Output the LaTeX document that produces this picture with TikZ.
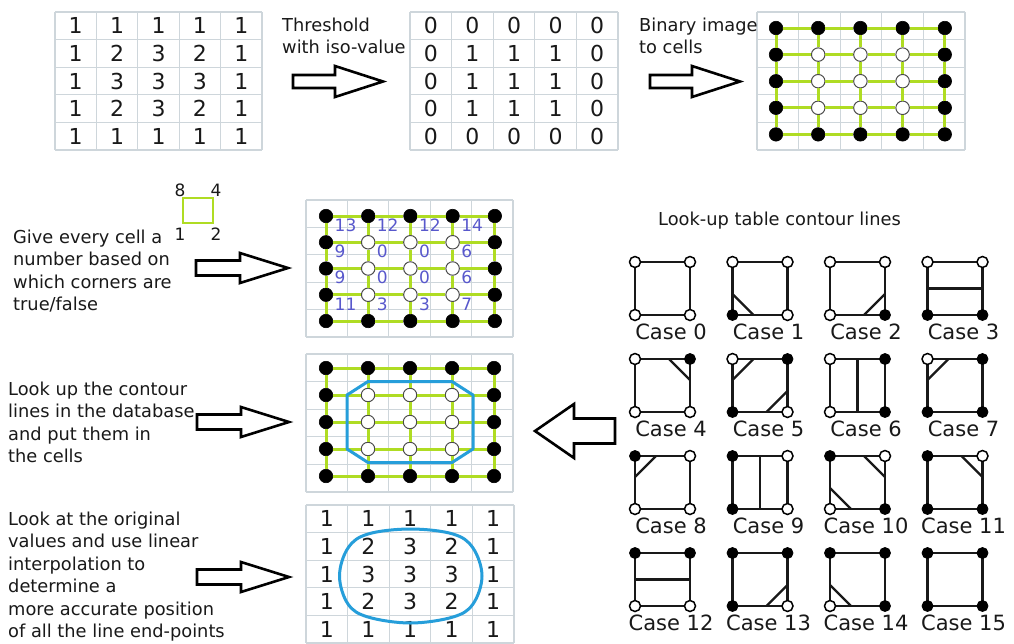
\documentclass[tikz,border=0pt]{standalone}
\usepackage{fontspec}
\setmainfont{DejaVu Sans}
\usetikzlibrary{calc}

\definecolor{gridgray}{RGB}{206,214,219}
\definecolor{meshgreen}{RGB}{175,220,35}
\definecolor{contourblue}{RGB}{38,158,218}
\definecolor{codeblue}{RGB}{88,88,204}
\definecolor{ink}{RGB}{25,25,25}

\tikzset{
  gridline/.style={draw=gridgray, line width=1.3pt},
  digit/.style={inner sep=0pt, font=\fontsize{22}{26}\selectfont, text=ink},
  code/.style={inner sep=0pt, anchor=west, font=\fontsize{17}{20}\selectfont, text=codeblue},
  dotb/.style={circle, fill=black, draw=black, line width=0.6pt, minimum size=13.5pt, inner sep=0pt},
  dotw/.style={circle, fill=white, draw=black!70, line width=1pt, minimum size=13.5pt, inner sep=0pt},
  meshline/.style={draw=meshgreen, line width=3pt},
  contour/.style={draw=contourblue, line width=3pt, line join=round},
  arrowline/.style={draw=black, fill=white, line width=2.6pt, line join=miter},
  caption/.style={inner sep=0pt, align=left, font=\fontsize{17.8}{22.5}\selectfont, text=ink},
  keybox/.style={draw=meshgreen, line width=2.6pt, minimum width=30pt, minimum height=25pt, inner sep=0pt, outer sep=0pt},
  keynum/.style={inner sep=0pt, font=\fontsize{17}{20}\selectfont, text=ink},
  casebox/.style={draw=ink, line width=2.4pt, minimum width=55pt, minimum height=53pt, inner sep=0pt, outer sep=0pt},
  cutline/.style={draw=ink, line width=2.4pt},
  kon/.style={circle, fill=black, draw=black, minimum size=11pt, inner sep=0pt, line width=0.8pt},
  koff/.style={circle, fill=white, draw=black, minimum size=11pt, inner sep=0pt, line width=1.5pt},
  caselabel/.style={inner sep=0pt, anchor=base, font=\fontsize{21}{24}\selectfont, text=ink},
  pics/blockarrow/.style args={#1/#2/#3/#4}{code={
    \draw[arrowline] (0,-#1) -- (#3,-#1) -- (#3,-#2) -- (#3+#4,0) -- (#3,#2) -- (#3,#1) -- (0,#1) -- cycle;}},
}

% cell borders of a 5x5 table: x0, y0, width, height
\newcommand\drawcells[4]{%
  \foreach \k in {0,...,5}{
    \draw[gridline] ({#1+\k*#3/5},#2) -- ({#1+\k*#3/5},{#2+#4});
    \draw[gridline] (#1,{#2+\k*#4/5}) -- ({#1+#3},{#2+\k*#4/5});
  }}

% numbers of a 5x5 table: prefix, x0, y0, width, height, rows
\newcommand\digitgrid[6]{%
  \foreach \row [count=\r] in {#6}{
    \foreach \v [count=\c] in \row {
      \node[digit] (#1-\r-\c) at ({#2+(\c-0.5)*#4/5},{#3+(\r-0.5)*#5/5}) {\v};
    }}}

% 5x5 sample points joined by a mesh: prefix, x0, dx, y0, dy
\newcommand\dotmesh[5]{%
  \foreach \row [count=\r] in {{b,b,b,b,b},{b,w,w,w,b},{b,w,w,w,b},{b,w,w,w,b},{b,b,b,b,b}}{
    \foreach \s [count=\c] in \row {
      \node[dot\s] (#1-\r-\c) at ({#2+(\c-1)*#3},{#4+(\r-1)*#5}) {};
    }}
  \foreach \r in {1,...,5}{
    \foreach \c [evaluate=\c as \cn using int(\c+1)] in {1,...,4}{
      \draw[meshline] (#1-\r-\c) -- (#1-\r-\cn);
      \draw[meshline] (#1-\c-\r) -- (#1-\cn-\r);
    }}}

% contour segments inside a look-up square
\newcommand\mscutbl[1]{\draw[cutline] ($(#1.south west)+(0,-21)$) -- ($(#1.south west)+(21,0)$);}
\newcommand\mscutbr[1]{\draw[cutline] ($(#1.south east)+(-21,0)$) -- ($(#1.south east)+(0,-21)$);}
\newcommand\mscuttr[1]{\draw[cutline] ($(#1.north east)+(-21,0)$) -- ($(#1.north east)+(0,21)$);}
\newcommand\mscuttl[1]{\draw[cutline] ($(#1.north west)+(21,0)$) -- ($(#1.north west)+(0,21)$);}
\newcommand\mscuth[1]{\draw[cutline] (#1.west) -- (#1.east);}
\newcommand\mscutv[1]{\draw[cutline] (#1.north) -- (#1.south);}

\begin{document}
\begin{tikzpicture}[x=1pt,y=-1pt]
\fill[white] (0,0) rectangle (1014,643);
\useasboundingbox (0,0) rectangle (1014,643);

% ---- top row: scalar field, thresholded field, sample points
\drawcells{55}{12}{207}{138}
\digitgrid{va}{55}{12}{207}{138}{{1,1,1,1,1},{1,2,3,2,1},{1,3,3,3,1},{1,2,3,2,1},{1,1,1,1,1}}

\drawcells{410}{12}{208}{138}
\digitgrid{vb}{410}{12}{208}{138}{{0,0,0,0,0},{0,1,1,1,0},{0,1,1,1,0},{0,1,1,1,0},{0,0,0,0,0}}

\drawcells{757}{12}{208}{138}
\dotmesh{m3}{776}{42.2}{28}{26.6}

\node[caption, anchor=north west] (txtA) at (282,17.5) {Threshold\\with iso-value};
\coordinate (arrA) at (293,81.5);
\pic at (arrA) {blockarrow=6.5/15.5/42/48};

\node[caption, anchor=north west] (txtB) at (639,17.5) {Binary image\\to cells};
\coordinate (arrB) at (650,81.5);
\pic at (arrB) {blockarrow=6.5/15.5/42/48};

% ---- cell codes
\node[keybox] (key) at (198,210.5) {};
\node[keynum] (key8) at (180,190) {8};
\node[keynum] (key4) at (216,190) {4};
\node[keynum] (key1) at (180,234) {1};
\node[keynum] (key2) at (216,234) {2};

\node[caption, anchor=north west] (txtC) at (13,229.5) {Give every cell a\\number based on\\which corners are\\true/false};
\coordinate (arrC) at (196,268);
\pic at (arrC) {blockarrow=7.5/15/44/48};

\drawcells{306}{200}{207}{137}
\dotmesh{m4}{326}{42.2}{216}{26.25}
\foreach \row [count=\r] in {{13,12,12,14},{9,0,0,6},{9,0,0,6},{11,3,3,7}}{
  \foreach \v [count=\c] in \row {
    \pgfmathtruncatemacro\rr{\r+1}
    \node[code] (code-\r-\c) at ($(m4-\r-\c)!.5!(m4-\rr-\c)+(8.5,-4)$) {\v};
  }}

% ---- contour from the look-up table
\node[caption, anchor=north west] (txtD) at (8,381.5) {Look up the contour\\lines in the database\\and put them in\\the cells};
\coordinate (arrD) at (197,422);
\pic at (arrD) {blockarrow=7.5/15/44/48};

\drawcells{306}{354}{207}{138}
\dotmesh{m5}{326}{42}{368}{27}
\draw[contour]
  ($(m5-2-1)!.5!(m5-2-2)$) -- ($(m5-1-2)!.5!(m5-2-2)$) -- ($(m5-1-4)!.5!(m5-2-4)$)
  -- ($(m5-2-4)!.5!(m5-2-5)$) -- ($(m5-4-4)!.5!(m5-4-5)$) -- ($(m5-4-4)!.5!(m5-5-4)$)
  -- ($(m5-4-2)!.5!(m5-5-2)$) -- ($(m5-4-1)!.5!(m5-4-2)$) -- cycle;

% ---- interpolated contour
\node[caption, anchor=north west] (txtE) at (8,511.5) {Look at the original\\values and use linear\\interpolation to\\determine a\\more accurate position\\of all the line end-points};
\coordinate (arrE) at (197,577);
\pic at (arrE) {blockarrow=7.5/15/44/48};

\drawcells{306}{505}{208}{138}
\digitgrid{vf}{306}{505}{208}{138}{{1,1,1,1,1},{1,2,3,2,1},{1,3,3,3,1},{1,2,3,2,1},{1,1,1,1,1}}
\draw[contour] plot[smooth cycle, tension=0.6] coordinates {
  (339.5,576) (348,548) (368,534) (410.5,529) (453,534) (473,548)
  (482,576) (473,604) (453,617) (410.5,623) (368,617) (348,604)};

% ---- look-up table
\node[caption, anchor=base west] (txtF) at (658,225) {Look-up table contour lines};
\coordinate (arrF) at (615,431);
\pic[rotate=180] at (arrF) {blockarrow=12.5/27/41/39};

\foreach \n/\bl/\br/\tr/\tl in {0/koff/koff/koff/koff, 1/kon/koff/koff/koff,
    2/koff/kon/koff/koff, 3/kon/kon/koff/koff, 4/koff/koff/kon/koff,
    5/kon/koff/kon/koff, 6/koff/kon/kon/koff, 7/kon/kon/kon/koff,
    8/koff/koff/koff/kon, 9/kon/koff/koff/kon, 10/koff/kon/koff/kon,
    11/kon/kon/koff/kon, 12/koff/koff/kon/kon, 13/kon/koff/kon/kon,
    14/koff/kon/kon/kon, 15/kon/kon/kon/kon}{
  \pgfmathtruncatemacro\col{mod(\n,4)}
  \pgfmathtruncatemacro\rw{\n/4}
  \pgfmathsetmacro\cx{662.5+97.5*\col}
  \pgfmathsetmacro\cy{288.5+97*\rw}
  \node[casebox] (case\n) at (\cx,\cy) {};
  \node[\bl] (case\n-bl) at (case\n.south west) {};
  \node[\br] (case\n-br) at (case\n.south east) {};
  \node[\tr] (case\n-tr) at (case\n.north east) {};
  \node[\tl] (case\n-tl) at (case\n.north west) {};
  \node[caselabel] (case\n-label) at ($(case\n.south)+(8.5,24)$) {Case \n};
}
\mscutbl{case1}
\mscutbr{case2}
\mscuth{case3}
\mscuttr{case4}
\mscuttl{case5}\mscutbr{case5}
\mscutv{case6}
\mscuttl{case7}
\mscuttl{case8}
\mscutv{case9}
\mscuttr{case10}\mscutbl{case10}
\mscuttr{case11}
\mscuth{case12}
\mscutbr{case13}
\mscutbl{case14}
\end{tikzpicture}
\end{document}
